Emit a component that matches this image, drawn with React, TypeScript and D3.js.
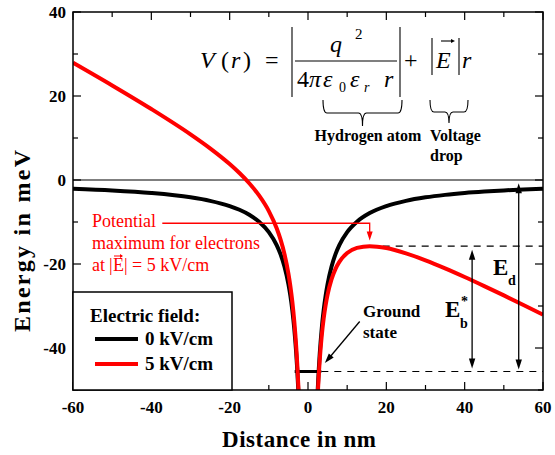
import React from "react";
import * as d3 from "d3";

// ---- data ----
const xLeft = [-60, -50, -40, -30, -25, -20, -17.5, -15, -12.5, -10, -8, -7, -6, -5, -4.5, -4, -3.5, -3, -2.75, -2.5, -2.3];
const blackLeft = [-2.07, -2.48, -3.1, -4.13, -4.96, -6.2, -7.09, -8.27, -9.92, -12.4, -15.5, -17.71, -20.67, -24.8, -27.56, -31.0, -35.43, -41.33, -45.09, -49.6, -53.91];
const redLeft = [27.93, 22.52, 16.9, 10.87, 7.54, 3.8, 1.66, -0.77, -3.67, -7.4, -11.5, -14.21, -17.67, -22.3, -25.31, -29.0, -33.68, -39.83, -43.72, -48.35, -52.76];

const xRight = [2.3, 2.5, 2.75, 3, 3.5, 4, 4.5, 5, 6, 7, 8, 10, 12.5, 15.75, 20, 25, 30, 35, 40, 45, 50, 55, 60];
const blackRight = [-53.91, -49.6, -45.09, -41.33, -35.43, -31.0, -27.56, -24.8, -20.67, -17.71, -15.5, -12.4, -9.92, -7.87, -6.2, -4.96, -4.13, -3.54, -3.1, -2.76, -2.48, -2.25, -2.07];
const redRight = [-55.06, -50.85, -46.47, -42.83, -37.18, -33.0, -29.81, -27.3, -23.67, -21.21, -19.5, -17.4, -16.17, -15.75, -16.2, -17.46, -19.13, -21.04, -23.1, -25.26, -27.48, -29.75, -32.07];

const xTicksMajor = [-60, -40, -20, 0, 20, 40, 60];
const xTicksMinor = [-50, -30, -10, 10, 30, 50];
const yTicksMajor = [-40, -20, 0, 20, 40];
const yTicksMinor = [-50, -30, -10, 10, 30];

const groundState = -45.6;
const groundSegment = [-3.4, 3.4];
const barrierMax = [15.75, -15.75];
const ebX = 41.9;
const ebRange = [-16.6, -44.9];
const edX = 53.8;
const edRange = [-0.8, -45.1];
const groundArrow = [[13.2, -33.7], [4.3, -43.6]];
const redNote = [[-37.2, -10.3], [15.75, -10.3], [15.75, -14.4]];

const legendItems = ["0 kV/cm", "5 kV/cm"];
const colors = ["#000000", "#ff0000"];

const W = 555, H = 455;
const FONT = "Liberation Serif";

function Arrowhead({ x, y, dir }: { x: number; y: number; dir: number }) {
  const L = 10, w = 3.2;
  const bx = x - L * Math.cos(dir), by = y - L * Math.sin(dir);
  const px = -Math.sin(dir) * w, py = Math.cos(dir) * w;
  return <path d={`M${x},${y}L${bx + px},${by + py}L${bx - px},${by - py}Z`} fill="#000" />;
}

function brace(x1: number, x2: number, yTop: number, yMid: number, yTip: number) {
  const xc = (x1 + x2) / 2;
  const r = 4;
  return `M${x1},${yTop}Q${x1},${yMid} ${x1 + r},${yMid}L${xc - r},${yMid}Q${xc},${yMid} ${xc},${yTip}Q${xc},${yMid} ${xc + r},${yMid}L${x2 - r},${yMid}Q${x2},${yMid} ${x2},${yTop}`;
}

export default function App() {
  const x = d3.scaleLinear().domain([-60, 60]).range([73, 543]);
  const y = d3.scaleLinear().domain([-50, 40]).range([390, 12]);
  const line = d3
    .line<[number, number]>()
    .x((d) => x(d[0]))
    .y((d) => y(d[1]))
    .curve(d3.curveMonotoneX);

  const zip = (xs: number[], ys: number[]) => xs.map((v, i) => [v, ys[i]] as [number, number]);

  const [x0, x1] = x.range();
  const [yb, yt] = y.range();

  return (
    <svg width={W} height={H} style={{ position: "absolute", left: 0, top: 0, background: "#fff" }} fontFamily={FONT}>
      <defs>
        <clipPath id="plot">
          <rect x={x0} y={yt} width={x1 - x0} height={yb - yt} />
        </clipPath>
      </defs>
      <rect width={W} height={H} fill="#fff" />

      <line x1={x0} x2={x1} y1={y(0)} y2={y(0)} stroke="#000" strokeWidth={1.2} />

      <line x1={x(barrierMax[0])} x2={x1} y1={y(barrierMax[1])} y2={y(barrierMax[1])} stroke="#000" strokeWidth={1.2} strokeDasharray="7,6" />
      <line x1={x(groundSegment[1])} x2={x1} y1={y(groundState)} y2={y(groundState)} stroke="#000" strokeWidth={1.2} strokeDasharray="7,6" />

      <line x1={x(groundSegment[0])} x2={x(groundSegment[1])} y1={y(groundState)} y2={y(groundState)} stroke="#000" strokeWidth={3} />

      <g clipPath="url(#plot)" fill="none" strokeLinejoin="round">
        <path d={line(zip(xLeft, blackLeft)) || ""} stroke={colors[0]} strokeWidth={4} />
        <path d={line(zip(xRight, blackRight)) || ""} stroke={colors[0]} strokeWidth={4} />
        <path d={line(zip(xLeft, redLeft)) || ""} stroke={colors[1]} strokeWidth={4} />
        <path d={line(zip(xRight, redRight)) || ""} stroke={colors[1]} strokeWidth={4} />
      </g>

      <line x1={x(ebX)} x2={x(ebX)} y1={y(ebRange[0]) + 6} y2={y(ebRange[1]) - 6} stroke="#000" strokeWidth={1.3} />
      <Arrowhead x={x(ebX)} y={y(ebRange[0])} dir={-Math.PI / 2} />
      <Arrowhead x={x(ebX)} y={y(ebRange[1])} dir={Math.PI / 2} />
      <line x1={x(edX)} x2={x(edX)} y1={y(edRange[0]) + 6} y2={y(edRange[1]) - 6} stroke="#000" strokeWidth={1.3} />
      <Arrowhead x={x(edX)} y={y(edRange[0])} dir={-Math.PI / 2} />
      <Arrowhead x={x(edX)} y={y(edRange[1])} dir={Math.PI / 2} />

      {(() => {
        const ax = x(groundArrow[0][0]), ay = y(groundArrow[0][1]);
        const bx = x(groundArrow[1][0]), by = y(groundArrow[1][1]);
        const ang = Math.atan2(by - ay, bx - ax);
        return (
          <g>
            <line x1={ax} y1={ay} x2={bx - 6 * Math.cos(ang)} y2={by - 6 * Math.sin(ang)} stroke="#000" strokeWidth={1.3} />
            <Arrowhead x={bx} y={by} dir={ang} />
          </g>
        );
      })()}

      <polyline
        points={redNote.slice(0, 2).map((p) => `${x(p[0])},${y(p[1])}`).join(" ") + ` ${x(redNote[2][0])},${y(redNote[2][1]) - 7}`}
        fill="none"
        stroke="#ff0000"
        strokeWidth={1.3}
      />
      <path
        d={`M${x(redNote[2][0])},${y(redNote[2][1])}L${x(redNote[2][0]) - 3},${y(redNote[2][1]) - 9}L${x(redNote[2][0]) + 3},${y(redNote[2][1]) - 9}Z`}
        fill="#ff0000"
      />

      <rect x={x0} y={yt} width={x1 - x0} height={yb - yt} fill="none" stroke="#000" strokeWidth={1.5} />

      {xTicksMajor.map((t) => (
        <g key={"xm" + t}>
          <line x1={x(t)} x2={x(t)} y1={yb} y2={yb - 8} stroke="#000" strokeWidth={1.2} />
          <line x1={x(t)} x2={x(t)} y1={yt} y2={yt + 8} stroke="#000" strokeWidth={1.2} />
          <text x={x(t)} y={413} textAnchor="middle" fontWeight="bold" fontSize={17}>
            {String(t)}
          </text>
        </g>
      ))}
      {xTicksMinor.map((t) => (
        <g key={"xn" + t}>
          <line x1={x(t)} x2={x(t)} y1={yb} y2={yb - 5} stroke="#000" strokeWidth={1.2} />
          <line x1={x(t)} x2={x(t)} y1={yt} y2={yt + 5} stroke="#000" strokeWidth={1.2} />
        </g>
      ))}
      {yTicksMajor.map((t) => (
        <g key={"ym" + t}>
          <line x1={x0} x2={x0 + 8} y1={y(t)} y2={y(t)} stroke="#000" strokeWidth={1.2} />
          <line x1={x1} x2={x1 - 8} y1={y(t)} y2={y(t)} stroke="#000" strokeWidth={1.2} />
          <text x={66} y={y(t) + 6} textAnchor="end" fontWeight="bold" fontSize={17}>
            {String(t)}
          </text>
        </g>
      ))}
      {yTicksMinor.map((t) => (
        <g key={"yn" + t}>
          <line x1={x0} x2={x0 + 5} y1={y(t)} y2={y(t)} stroke="#000" strokeWidth={1.2} />
          <line x1={x1} x2={x1 - 5} y1={y(t)} y2={y(t)} stroke="#000" strokeWidth={1.2} />
        </g>
      ))}

      <text x={299} y={447} textAnchor="middle" fontWeight="bold" fontSize={23} textLength={154} lengthAdjust="spacing">
        Distance in nm
      </text>
      <text transform="translate(30,241) rotate(-90)" textAnchor="middle" fontWeight="bold" fontSize={24} textLength={182} lengthAdjust="spacing">
        Energy in meV
      </text>

      <rect x={x0} y={292} width={232 - x0} height={yb - 292} fill="#fff" stroke="#000" strokeWidth={1.5} />
      <text x={90} y={322} fontWeight="bold" fontSize={19}>
        Electric field:
      </text>
      {legendItems.map((lab, i) => (
        <g key={lab}>
          <line x1={95} x2={138} y1={339 + i * 25} y2={339 + i * 25} stroke={colors[i]} strokeWidth={4} />
          <text x={145} y={345 + i * 25} fontWeight="bold" fontSize={19}>
            {lab}
          </text>
        </g>
      ))}

      <g fill="#ff0000" fontSize={18}>
        <text x={92} y={227}>Potential</text>
        <text x={92} y={249}>maximum for electrons</text>
        <text x={92} y={271}>at</text>
        <text x={109} y={271}>|</text>
        <text x={113} y={271}>E</text>
        <text x={124} y={271}>| = 5 kV/cm</text>
      </g>
      <line x1={114} x2={122} y1={256} y2={256} stroke="#ff0000" strokeWidth={1} />
      <path d="M123,256L120,254L120,258Z" fill="#ff0000" />

      <g fontWeight="bold" fontSize={17}>
        <text x={363} y={317}>Ground</text>
        <text x={363} y={338}>state</text>
      </g>

      <g fontWeight="bold">
        <text x={493} y={275} fontSize={23}>E</text>
        <text x={508} y={285} fontSize={14}>d</text>
        <text x={445} y={317} fontSize={23}>E</text>
        <text x={461} y={306} fontSize={14}>*</text>
        <text x={460} y={328} fontSize={14}>b</text>
      </g>

      <g fontSize={24}>
        <text x={200} y={68} fontStyle="italic">V</text>
        <text x={221} y={68}>(</text>
        <text x={231} y={68} fontStyle="italic">r</text>
        <text x={243} y={68}>)</text>
        <text x={265} y={68}>=</text>
        <text x={330} y={52} fontStyle="italic">q</text>
        <text x={355} y={39} fontSize={15}>2</text>
        <text x={297} y={87}>4</text>
        <text x={309} y={87} fontStyle="italic">π</text>
        <text x={323} y={87} fontStyle="italic">ε</text>
        <text x={339} y={92} fontSize={14}>0</text>
        <text x={350} y={87} fontStyle="italic">ε</text>
        <text x={364} y={92} fontSize={14} fontStyle="italic">r</text>
        <text x={384} y={87} fontStyle="italic">r</text>
        <text x={404} y={68}>+</text>
        <text x={436} y={68} fontStyle="italic">E</text>
        <text x={462} y={68} fontStyle="italic">r</text>
      </g>
      <g stroke="#000" strokeWidth={1.1} fill="none">
        <line x1={295} x2={397} y1={61} y2={61} />
        <line x1={292} x2={292} y1={27} y2={97} />
        <line x1={400} x2={400} y1={27} y2={97} />
        <line x1={432} x2={432} y1={38} y2={75} />
        <line x1={459} x2={459} y1={38} y2={75} />
        <line x1={441} x2={453} y1={41} y2={41} />
        <path d={brace(323, 402, 100, 113, 126)} />
        <path d={brace(430, 468, 100, 112, 123)} />
      </g>
      <path d="M455,41L451,39L451,43Z" fill="#000" />

      <g fontWeight="bold" fontSize={16}>
        <text x={368} y={141} textAnchor="middle">Hydrogen atom</text>
        <text x={430} y={141}>Voltage</text>
        <text x={430} y={161}>drop</text>
      </g>
    </svg>
  );
}
